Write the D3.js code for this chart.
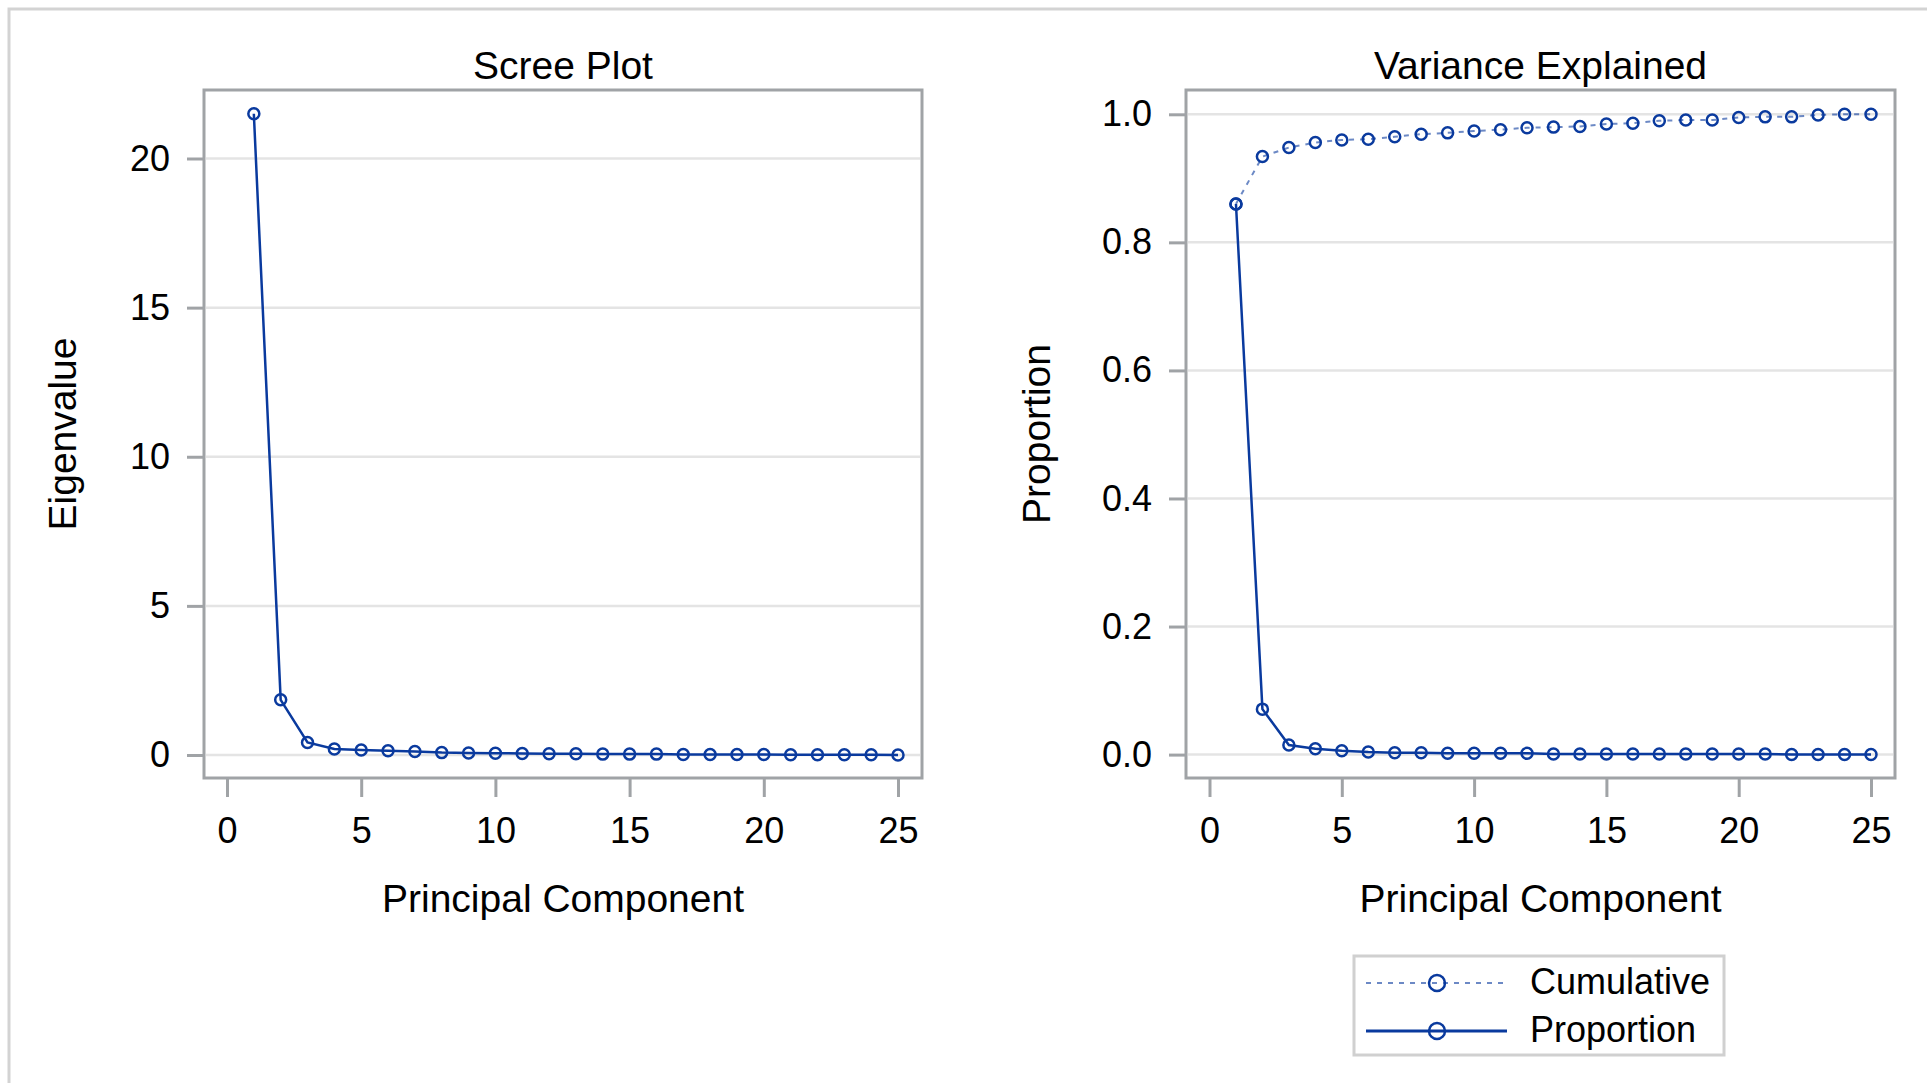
<!DOCTYPE html>
<html>
<head>
<meta charset="utf-8">
<script src="https://cdn.jsdelivr.net/npm/d3@7"></script>
<style>
  body { margin: 0; background: #fff; }
  text { font-family: "Liberation Sans", Arial, sans-serif; fill: #000; }
</style>
</head>
<body>
<div id="chart"></div>
<script>
// principal components 1..25
var components = d3.range(1, 26);

var eigenvalues = [21.5, 1.85, 0.42, 0.2, 0.17, 0.14, 0.12, 0.08, 0.07, 0.06,
  0.05, 0.04, 0.04, 0.03, 0.03, 0.03, 0.02, 0.02, 0.02, 0.02,
  0.01, 0.01, 0.01, 0.01, 0.0];

var proportion = [0.86, 0.071, 0.015, 0.009, 0.006, 0.004, 0.003, 0.003, 0.002, 0.002,
  0.002, 0.002, 0.001, 0.001, 0.001, 0.001, 0.001, 0.001, 0.001, 0.001,
  0.001, 0.0, 0.0, 0.0, 0.0];

var cumulative = [0.86, 0.934, 0.948, 0.956, 0.96, 0.961, 0.965, 0.969, 0.971, 0.974,
  0.976, 0.979, 0.98, 0.981, 0.985, 0.986, 0.99, 0.991, 0.991, 0.995,
  0.996, 0.996, 0.999, 1.0, 1.0];

var xTicks = [0, 5, 10, 15, 20, 25];
var eigenTicks = [0, 5, 10, 15, 20];
var propTicks = [0, 0.2, 0.4, 0.6, 0.8, 1.0];

var blue = "#0a3a9e";
var frameColor = "#a0a3a6";
var gridColor = "#e4e4e4";

var svg = d3.select("#chart")
  .append("svg")
  .attr("width", 1927)
  .attr("height", 1083);

// outer border (only top and left are in view)
svg.append("path")
  .attr("d", "M9,1083 L9,9 L1927,9")
  .attr("fill", "none")
  .attr("stroke", "#d3d3d3")
  .attr("stroke-width", 3);

function drawPanel(p) {
  var g = svg.append("g");

  // gridlines
  g.selectAll(".grid")
    .data(p.yTicks)
    .enter().append("line")
    .attr("x1", p.frame.x0 + 2)
    .attr("x2", p.frame.x1 - 2)
    .attr("y1", function (d) { return p.y(d); })
    .attr("y2", function (d) { return p.y(d); })
    .attr("stroke", gridColor)
    .attr("stroke-width", 2.5);

  // y axis
  var yAxis = g.append("g")
    .attr("transform", "translate(" + p.frame.x0 + ",0)")
    .call(d3.axisLeft(p.y).tickValues(p.yTicks).tickFormat(p.yFormat)
      .tickSize(17).tickPadding(17));

  // x axis
  var xAxis = g.append("g")
    .attr("transform", "translate(0," + p.frame.y1 + ")")
    .call(d3.axisBottom(p.x).tickValues(xTicks).tickFormat(d3.format("d"))
      .tickSize(19).tickPadding(20));

  [yAxis, xAxis].forEach(function (a) {
    a.select(".domain").remove();
    a.selectAll(".tick line").attr("stroke", frameColor).attr("stroke-width", 3);
    a.selectAll(".tick text")
      .style("font-size", "36px")
      .style("font-family", "'Liberation Sans', Arial, sans-serif")
      .attr("fill", "#000");
  });

  // series
  p.series.forEach(function (s) {
    var line = d3.line()
      .x(function (d, i) { return p.x(components[i]); })
      .y(function (d) { return p.y(d); });

    g.append("path")
      .datum(s.values)
      .attr("fill", "none")
      .attr("stroke", blue)
      .attr("stroke-width", s.dashed ? 2 : 2.5)
      .attr("stroke-opacity", s.dashed ? 0.6 : 1)
      .attr("stroke-dasharray", s.dashed ? "5,6" : null)
      .attr("d", line);

    g.selectAll(null)
      .data(s.values)
      .enter().append("circle")
      .attr("cx", function (d, i) { return p.x(components[i]); })
      .attr("cy", function (d) { return p.y(d); })
      .attr("r", 5.5)
      .attr("fill", "none")
      .attr("stroke", blue)
      .attr("stroke-width", 2.5);
  });

  // frame
  g.append("rect")
    .attr("x", p.frame.x0)
    .attr("y", p.frame.y0)
    .attr("width", p.frame.x1 - p.frame.x0)
    .attr("height", p.frame.y1 - p.frame.y0)
    .attr("fill", "none")
    .attr("stroke", frameColor)
    .attr("stroke-width", 3);

  var cx = (p.frame.x0 + p.frame.x1) / 2;
  var cy = (p.frame.y0 + p.frame.y1) / 2;

  g.append("text")
    .attr("x", cx)
    .attr("y", 79)
    .attr("text-anchor", "middle")
    .style("font-size", "39px")
    .text(p.title);

  g.append("text")
    .attr("x", cx)
    .attr("y", 912)
    .attr("text-anchor", "middle")
    .style("font-size", "39px")
    .text("Principal Component");

  g.append("text")
    .attr("transform", "translate(" + p.yLabelX + "," + cy + ") rotate(-90)")
    .attr("text-anchor", "middle")
    .style("font-size", "39px")
    .text(p.yLabel);
}

// left panel: scree plot
drawPanel({
  frame: { x0: 204, x1: 922, y0: 90, y1: 778 },
  x: d3.scaleLinear().domain([0, 25]).range([227, 898]),
  y: d3.scaleLinear().domain([0, 20]).range([755, 158.5]),
  yTicks: eigenTicks,
  yFormat: d3.format("d"),
  title: "Scree Plot",
  yLabel: "Eigenvalue",
  yLabelX: 76,
  series: [{ values: eigenvalues, dashed: false }]
});

// right panel: variance explained
drawPanel({
  frame: { x0: 1186, x1: 1895, y0: 90, y1: 778 },
  x: d3.scaleLinear().domain([0, 25]).range([1209.5, 1871]),
  y: d3.scaleLinear().domain([0, 1]).range([754.6, 114.3]),
  yTicks: propTicks,
  yFormat: d3.format(".1f"),
  title: "Variance Explained",
  yLabel: "Proportion",
  yLabelX: 1050,
  series: [
    { values: cumulative, dashed: true },
    { values: proportion, dashed: false }
  ]
});

// legend
var legend = svg.append("g");
legend.append("rect")
  .attr("x", 1354)
  .attr("y", 956)
  .attr("width", 370)
  .attr("height", 99)
  .attr("fill", "none")
  .attr("stroke", "#d0d0d0")
  .attr("stroke-width", 3);

var legendItems = [
  { label: "Cumulative", dashed: true, y: 983 },
  { label: "Proportion", dashed: false, y: 1031 }
];

legendItems.forEach(function (d) {
  legend.append("line")
    .attr("x1", 1366).attr("x2", 1507)
    .attr("y1", d.y).attr("y2", d.y)
    .attr("stroke", blue)
    .attr("stroke-width", d.dashed ? 2 : 3)
    .attr("stroke-opacity", d.dashed ? 0.6 : 1)
    .attr("stroke-dasharray", d.dashed ? "5,6" : null);
  legend.append("circle")
    .attr("cx", 1437).attr("cy", d.y)
    .attr("r", 8)
    .attr("fill", "none")
    .attr("stroke", blue)
    .attr("stroke-width", 2.5);
  legend.append("text")
    .attr("x", 1530)
    .attr("y", d.y + 11)
    .style("font-size", "36px")
    .text(d.label);
});
</script>
</body>
</html>
